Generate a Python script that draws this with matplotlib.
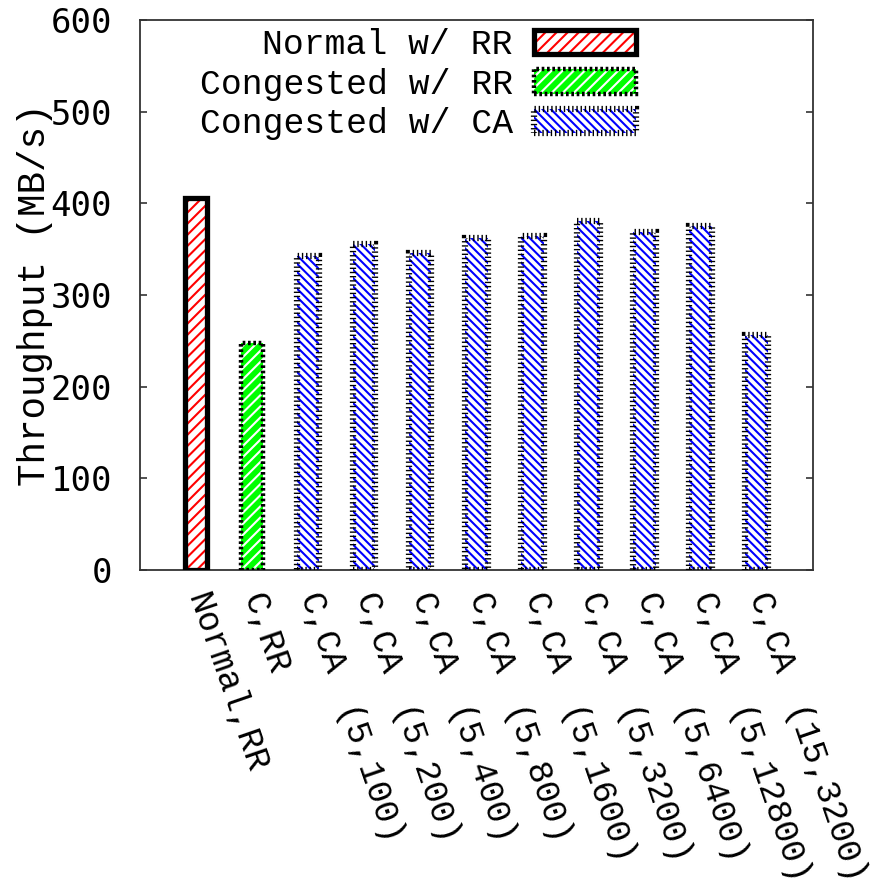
import matplotlib
matplotlib.use('Agg')
import matplotlib.pyplot as plt
import numpy as np

# throughput per configuration (MB/s)
names = ['Normal,RR', 'C,RR', 'C,CA', 'C,CA', 'C,CA', 'C,CA', 'C,CA',
         'C,CA', 'C,CA', 'C,CA', 'C,CA']
params = ['', '', '(5,100)', '(5,200)', '(5,400)', '(5,800)', '(5,1600)',
          '(5,3200)', '(5,6400)', '(5,12800)', '(15,3200)']
throughput = [406, 248, 343, 356, 346, 362, 364, 381, 369, 375, 256]
series = ['Normal w/ RR', 'Congested w/ RR', 'Congested w/ CA']
group = [0, 1, 2, 2, 2, 2, 2, 2, 2, 2, 2]

plt.rcParams['hatch.linewidth'] = 1.5
label_font = 'Liberation Mono'

fig = plt.figure(figsize=(8.71, 8.96), dpi=100)
ax = fig.add_axes([0.1607, 0.3638, 0.7723, 0.6138])

x = np.arange(len(throughput))
vals = np.array(throughput)
grp = np.array(group)
w = 0.4

# fill + hatch, then the border drawn on top
styles = [
    dict(face='white', hatch='///', hcolor='red', edge='black', lw=3.8, ls='-'),
    dict(face='#00ff00', hatch='///', hcolor='white', edge='black', lw=3.2, ls=(0, (0.6, 0.6))),
    dict(face='white', hatch='\\\\\\\\', hcolor='blue', edge='black', lw=4.5, ls=(0, (0.22, 0.45))),
]
handles = []
for k, st in enumerate(styles):
    m = grp == k
    fill = ax.bar(x[m], vals[m], w, color=st['face'], hatch=st['hatch'],
                  edgecolor=st['hcolor'], linewidth=0, zorder=2)
    edge = ax.bar(x[m], vals[m], w, fill=False, edgecolor=st['edge'],
                  linewidth=st['lw'], linestyle=st['ls'], zorder=3)
    handles.append((fill, edge))

ax.set_xlim(-1, 11)
ax.set_ylim(0, 600)
ax.set_yticks(range(0, 601, 100))
ax.set_xticks([])
ax.tick_params(axis='y', direction='in', length=5, width=1.2, right=True,
               pad=20, labelsize=24.5, colors='#333')
for lab in ax.get_yticklabels():
    lab.set_family('DejaVu Sans Mono')
    lab.set_color('black')
for sp in ax.spines.values():
    sp.set_color('#333')
    sp.set_linewidth(1.3)

ax.set_ylabel('Throughput (MB/s)', fontsize=27, family=label_font)
ax.yaxis.set_label_coords(-0.13, 0.5)

# rotated category labels, second line shifted down the slope
for xi, n, p in zip(x, names, params):
    ax.annotate(n, (xi, 0), xytext=(0, -24), textcoords='offset pixels',
                rotation=-71, rotation_mode='anchor', ha='left', va='center',
                fontsize=25, family=label_font, annotation_clip=False)
    if p:
        ax.annotate(p, (xi, 0), xytext=(35, -139), textcoords='offset pixels',
                    rotation=-71, rotation_mode='anchor', ha='left', va='center',
                    fontsize=25, family=label_font, annotation_clip=False)

leg = ax.legend(handles, series, loc='upper right', bbox_to_anchor=(0.737, 0.985),
                frameon=False, markerfirst=False, handlelength=2.94,
                handleheight=0.7, handletextpad=0.6, labelspacing=0.18,
                borderpad=0, borderaxespad=0,
                prop={'family': label_font, 'size': 25})

fig.savefig('out.png', dpi=100)
